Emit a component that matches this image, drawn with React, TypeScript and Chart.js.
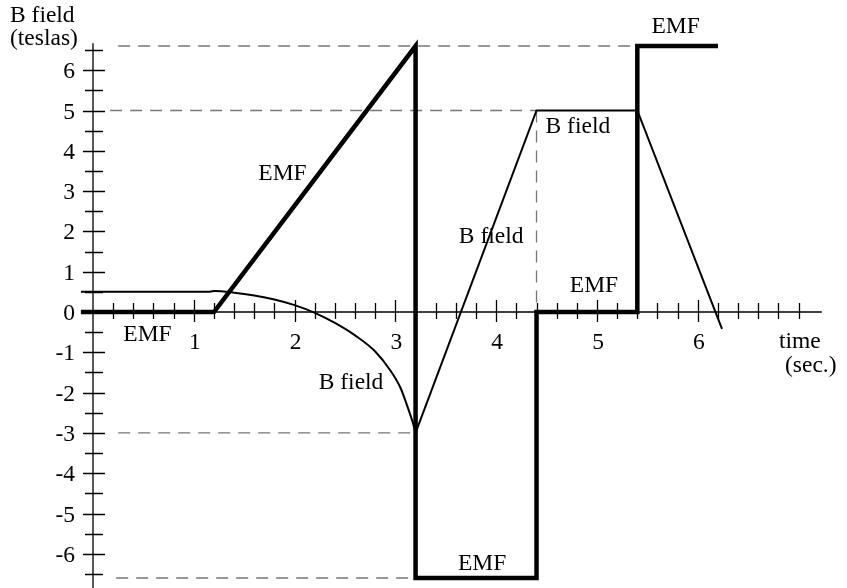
import React, { useEffect, useRef } from "react";
import { Chart, registerables } from "chart.js";

Chart.register(...registerables);

// EMF trace (thick line): piecewise, vertical jumps at 3.2, 4.4 and 5.4 s
const emfTimes = [-0.12, 1.2, 3.2, 3.2, 4.4, 4.4, 5.4, 5.4, 6.2];
const emfValues = [0, 0, 6.6, -6.6, -6.6, 0, 0, 6.6, 6.6];

// B field, curved part (0 to 3.2 s)
const bCurveTimes = [-0.12, 1.14, 1.2, 1.4, 1.6, 1.8, 2.0, 2.2, 2.4, 2.6, 2.8, 2.95, 3.05, 3.12, 3.17, 3.2];
const bCurveValues = [0.5, 0.5, 0.52, 0.48, 0.41, 0.31, 0.17, -0.02, -0.27, -0.58, -0.98, -1.45, -1.88, -2.35, -2.72, -3];

// B field, straight part (3.2 s onwards)
const bRampTimes = [3.2, 4.4, 5.4, 6.24];
const bRampValues = [-3, 5, 5, -0.42];

// Dashed reference levels
const guideLevels = [6.6, 5, -3, -6.6];
const guideStarts = [0.25, 0.17, 0.25, 0.23];
const guideEnds = [5.4, 4.4, 3.2, 3.2];
const guideVerticalTime = 4.4;
const guideVerticalRange = [0, 5];

// Axis ticks
const xTickValues = [1, 2, 3, 4, 5, 6];
const xTickLabels = ["1", "2", "3", "4", "5", "6"];
const yTickValues = [6, 5, 4, 3, 2, 1, 0, -1, -2, -3, -4, -5, -6];
const yTickLabels = ["6", "5", "4", "3", "2", "1", "0", "-1", "-2", "-3", "-4", "-5", "-6"];

// In-plot text labels (anchored at centre / baseline, in data units)
const labelTexts = ["EMF", "EMF", "B field", "B field", "B field", "EMF", "EMF", "EMF"];
const labelTimes = [0.54, 1.88, 2.56, 3.95, 4.81, 4.97, 5.78, 3.86];
const labelValues = [-0.72, 3.28, -1.91, 1.71, 4.44, 0.5, 6.92, -6.4];

const FONT = '23.5px "Liberation Serif", "Times New Roman", serif';

const zip = (xs: number[], ys: number[]) => xs.map((x, i) => ({ x, y: ys[i] }));

const axesPlugin = {
  id: "crossAxes",
  beforeDatasetsDraw(chart: any) {
    const { ctx } = chart;
    const xs = chart.scales.x;
    const ys = chart.scales.y;
    const x0 = xs.getPixelForValue(0);
    const y0 = ys.getPixelForValue(0);
    ctx.save();
    ctx.strokeStyle = "#000";
    ctx.lineWidth = 1.3;
    ctx.beginPath();
    // y axis
    ctx.moveTo(x0, ys.getPixelForValue(6.67));
    ctx.lineTo(x0, ys.getPixelForValue(-6.85));
    // x axis
    ctx.moveTo(x0, y0);
    ctx.lineTo(xs.getPixelForValue(7.23), y0);
    // x ticks every 0.2, longer at whole seconds
    for (let i = 1; i <= 35; i++) {
      const v = i / 5;
      const px = Math.round(xs.getPixelForValue(v)) + 0.5;
      const major = i % 5 === 0 && v <= 6;
      ctx.moveTo(px, y0 - (major ? 12 : 9));
      ctx.lineTo(px, y0 + (major ? 10 : 7));
    }
    // y ticks every 0.5, longer at whole teslas
    for (let i = -13; i <= 13; i++) {
      if (i === 0) continue;
      const v = i / 2;
      const py = Math.round(ys.getPixelForValue(v)) + 0.5;
      const major = i % 2 === 0;
      ctx.moveTo(x0 - (major ? 10 : 8), py);
      ctx.lineTo(x0 + (major ? 12 : 10), py);
    }
    ctx.stroke();

    ctx.fillStyle = "#000";
    ctx.font = FONT;
    ctx.textBaseline = "alphabetic";
    ctx.textAlign = "center";
    xTickValues.forEach((v, i) => {
      ctx.fillText(xTickLabels[i], xs.getPixelForValue(v) + 1, y0 + 37);
    });
    ctx.textAlign = "right";
    yTickValues.forEach((v, i) => {
      ctx.fillText(yTickLabels[i], x0 - 18, ys.getPixelForValue(v) + 8);
    });

    // axis titles
    ctx.textAlign = "left";
    ctx.fillText("B field", 10, 22);
    ctx.fillText("(teslas)", 10, 45);
    ctx.fillText("time", 779, y0 + 36);
    ctx.fillText("(sec.)", 785, y0 + 60);
    ctx.restore();
  },
  afterDatasetsDraw(chart: any) {
    const { ctx } = chart;
    const xs = chart.scales.x;
    const ys = chart.scales.y;
    ctx.save();
    ctx.fillStyle = "#000";
    ctx.font = FONT;
    ctx.textAlign = "center";
    ctx.textBaseline = "alphabetic";
    labelTexts.forEach((t, i) => {
      ctx.fillText(t, xs.getPixelForValue(labelTimes[i]), ys.getPixelForValue(labelValues[i]));
    });
    ctx.restore();
  },
};

export default function App() {
  const canvasRef = useRef<HTMLCanvasElement | null>(null);

  useEffect(() => {
    const canvas = canvasRef.current;
    if (!canvas) return;

    const guideStyle = {
      borderColor: "#777",
      borderWidth: 1.3,
      borderDash: [12, 8],
      pointRadius: 0,
      showLine: true,
      fill: false,
      tension: 0,
      order: 3,
    };

    const guides = guideLevels.map((lvl, i) => ({
      ...guideStyle,
      label: "guide",
      data: [
        { x: guideStarts[i], y: lvl },
        { x: guideEnds[i], y: lvl },
      ],
    }));
    guides.push({
      ...guideStyle,
      label: "guide",
      data: [
        { x: guideVerticalTime, y: guideVerticalRange[1] },
        { x: guideVerticalTime, y: guideVerticalRange[0] },
      ],
    });

    const chart = new Chart(canvas, {
      type: "scatter",
      data: {
        datasets: [
          {
            label: "EMF",
            data: zip(emfTimes, emfValues),
            showLine: true,
            borderColor: "#000",
            borderWidth: 4.5,
            borderJoinStyle: "miter",
            borderCapStyle: "butt",
            pointRadius: 0,
            tension: 0,
            order: 0,
          },
          {
            label: "B field",
            data: zip(bCurveTimes, bCurveValues),
            showLine: true,
            borderColor: "#000",
            borderWidth: 2,
            pointRadius: 0,
            cubicInterpolationMode: "monotone",
            order: 1,
          },
          {
            label: "B field",
            data: zip(bRampTimes, bRampValues),
            showLine: true,
            borderColor: "#000",
            borderWidth: 2,
            borderJoinStyle: "miter",
            pointRadius: 0,
            tension: 0,
            order: 1,
          },
          ...guides,
        ] as any,
      },
      options: {
        animation: false,
        responsive: false,
        maintainAspectRatio: false,
        layout: { padding: 0 },
        plugins: {
          legend: { display: false },
          tooltip: { enabled: false },
        },
        scales: {
          x: { type: "linear", display: false, min: -93 / 100.8, max: (847 - 93) / 100.8 },
          y: { type: "linear", display: false, min: -(588 - 312) / 40.3, max: 312 / 40.3 },
        },
      },
      plugins: [axesPlugin],
    });

    return () => chart.destroy();
  }, []);

  return (
    <div style={{ position: "fixed", left: 0, top: 0, width: 847, height: 588, background: "#fff" }}>
      <canvas ref={canvasRef} width={847} height={588} style={{ display: "block" }} />
    </div>
  );
}
